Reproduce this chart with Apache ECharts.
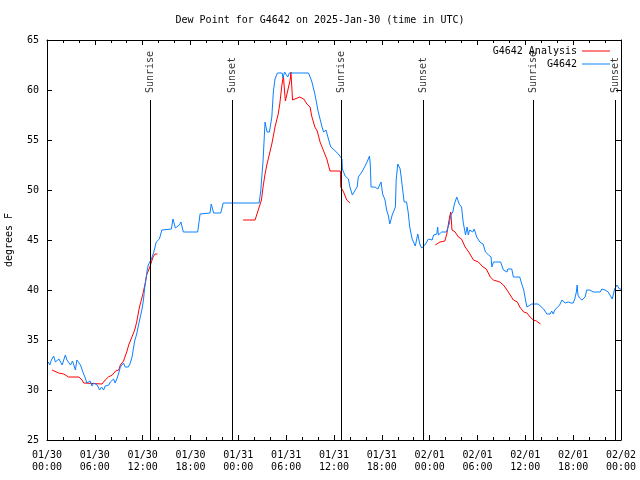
<!DOCTYPE html>
<html>
<head>
<meta charset="utf-8">
<script src="https://cdn.jsdelivr.net/npm/echarts@6/dist/echarts.min.js"></script>
<style>html,body{margin:0;padding:0;background:#fff}#c{width:640px;height:480px}</style>
</head>
<body>
<div id="c"></div>
<script>
// Hours since 2025-01-30 00:00 UTC
var obsHours = [0.15,0.35,0.55,0.84,1.05,1.25,1.5,1.7,1.9,2.1,2.3,2.5,2.75,2.95,3.2,3.35,3.56,3.75,3.95,4.2,4.5,4.8,5.0,5.2,5.4,5.65,5.85,6.07,6.3,6.45,6.6,6.7,6.85,7.1,7.3,7.55,7.75,7.95,8.16,8.35,8.55,8.8,9.0,9.2,9.4,9.6,9.8,10.0,10.2,10.4,10.67,10.85,11.0,11.25,11.45,11.7,11.9,12.1,12.25,12.4,12.55,12.7,12.85,13.1,13.4,13.7,14.1,14.4,14.6,15.6,15.8,16.1,16.3,16.6,16.8,17.1,18.9,19.2,20.45,20.6,20.9,21.8,22.1,26.6,26.8,27.1,27.35,27.6,27.9,28.2,28.4,28.6,28.9,29.5,29.6,29.8,30.0,30.2,30.4,32.8,33.2,33.6,34.0,34.5,34.7,35.0,35.3,35.6,35.9,36.1,36.55,37.0,37.05,37.4,37.8,38.0,38.3,38.55,38.9,39.05,39.5,39.9,40.2,40.45,40.55,40.65,41.15,41.5,41.9,42.1,42.4,42.6,42.8,43.0,43.3,43.5,43.7,43.8,44.0,44.3,44.5,44.8,45.1,45.3,45.5,45.8,46.2,46.5,46.8,47.0,47.4,47.85,48.3,48.5,48.9,49.0,49.1,49.5,50.1,50.45,50.65,50.9,51.1,51.4,51.5,51.7,52.0,52.2,52.4,52.5,52.7,52.85,53.0,53.4,53.6,53.9,54.3,54.7,55.0,55.4,55.7,55.8,56.0,56.9,57.25,57.7,57.8,58.3,58.5,59.3,59.55,59.8,60.0,60.2,60.4,60.8,61.6,61.8,62.3,62.7,63.1,63.3,63.5,63.7,63.9,64.3,64.6,64.8,65.0,65.4,65.7,66.0,66.2,66.4,66.5,66.6,66.8,67.1,67.5,67.7,67.9,68.1,68.3,68.5,69.4,69.6,70.0,70.2,70.4,70.9,71.2,71.5,71.8,72.0];
var obsDew = [32.8,32.5,33.0,33.4,32.8,32.7,33.1,33.2,32.5,33.0,33.5,33.0,33.1,32.5,32.9,33.0,32.0,33.0,32.8,32.5,31.8,31.2,30.7,30.5,30.9,30.4,30.7,30.7,30.5,30.6,30.0,29.8,30.3,30.0,30.4,30.2,30.5,30.8,31.0,31.1,30.7,31.2,31.7,32.3,32.2,32.7,32.3,32.5,32.3,32.6,33.3,34.2,34.9,35.6,36.4,37.3,38.0,39.0,40.2,41.0,41.9,42.5,42.3,43.1,43.8,44.8,45.1,46.0,46.1,46.1,47.1,46.2,46.2,46.5,46.8,45.8,45.8,47.6,47.7,48.6,47.7,47.7,48.7,48.7,49.8,52.9,56.8,55.8,55.8,57.3,59.9,61.1,61.7,61.7,61.2,61.8,61.7,61.3,61.7,61.7,60.9,59.6,57.9,56.3,55.8,56.0,55.1,54.3,54.1,53.9,53.6,53.1,52.1,51.4,51.1,50.3,49.5,49.3,50.3,51.3,51.8,52.4,52.9,53.4,52.6,50.3,50.3,50.1,50.8,49.6,49.0,48.0,47.5,46.6,47.5,47.3,48.3,51.0,52.6,52.1,50.8,48.8,48.8,47.8,46.3,45.1,44.4,45.6,44.5,44.2,44.5,45.1,45.0,45.5,45.6,46.3,45.5,45.8,45.8,46.6,47.5,47.8,48.6,49.3,49.4,48.6,48.3,46.8,46.6,45.5,46.3,45.5,46.0,45.8,46.1,45.3,44.8,44.6,43.8,43.5,43.3,42.3,42.8,42.8,42.0,41.8,42.1,42.1,41.3,41.3,40.6,40.0,39.1,38.3,38.5,38.6,38.6,38.5,38.1,37.6,37.6,37.9,37.6,38.0,37.8,38.5,39.0,39.2,38.7,38.8,38.7,38.7,39.1,39.8,40.5,39.5,39.2,39.0,39.3,40.0,40.1,40.0,40.1,39.8,39.8,40.1,40.0,40.1,39.8,39.1,40.1,40.5,40.1,40.1];

// Analysis (null = gap)
var anaHours = [0.63,1.46,2.1,2.7,4.0,4.4,4.6,6.9,7.3,7.7,8.2,8.6,9.0,9.2,9.6,10.0,10.25,10.5,11.0,11.25,11.6,12.0,12.3,12.5,12.9,13.3,13.55,13.85,18.0,24.6,26.1,26.5,26.9,27.1,27.35,27.6,27.9,28.2,28.6,29.0,29.2,29.45,29.65,29.9,30.1,30.3,30.5,30.6,30.8,31.1,31.7,32.2,32.6,33.0,33.2,33.6,33.9,34.25,34.7,35.1,35.5,36.8,36.85,37.2,37.6,38.0,43.0,48.7,49.3,49.9,50.15,50.5,50.65,50.8,51.2,51.6,52.0,52.45,52.9,53.5,54.1,54.7,55.1,55.6,56.0,56.8,57.25,57.7,58.1,58.5,59.0,59.3,59.8,60.2,60.6,61.0,61.4,61.9];
var anaDew = [32.0,31.7,31.6,31.3,31.3,31.0,30.7,30.6,31.0,31.3,31.5,31.9,32.0,32.5,32.9,33.8,34.5,35.0,36.0,36.8,38.3,39.5,40.6,41.5,42.3,43.3,43.6,43.6,null,47.0,47.0,48.0,49.0,50.3,51.6,52.6,53.6,54.6,56.3,57.6,58.6,60.4,61.4,58.9,59.6,60.3,61.0,61.8,59.0,59.1,59.3,59.1,58.6,58.3,57.4,56.3,55.9,54.8,53.9,53.1,51.9,51.9,50.3,49.8,49.0,48.7,null,44.5,44.8,44.9,45.6,47.3,47.8,46.0,45.8,45.3,45.1,44.3,43.8,43.0,42.8,42.3,42.1,41.3,41.0,40.8,40.5,40.0,39.5,39.0,38.8,38.3,37.8,37.7,37.3,37.0,36.9,36.6];

var sunHours = [12.96, 23.24, 36.92, 47.2, 61.0, 71.29];
var sunNames = ['Sunrise','Sunset','Sunrise','Sunset','Sunrise','Sunset'];
var sunLineTop = 59;
var sunLabelY = 59.7;

var xTickDates = ['01/30','01/30','01/30','01/30','01/31','01/31','01/31','01/31','02/01','02/01','02/01','02/01','02/02'];
var xTickTimes = ['00:00','06:00','12:00','18:00','00:00','06:00','12:00','18:00','00:00','06:00','12:00','18:00','00:00'];
var yTicks = [25,30,35,40,45,50,55,60,65];

var FONT = 'DejaVu Sans Mono';
function zip(a,b){var r=[];for(var i=0;i<a.length;i++)r.push([a[i],b[i]]);return r;}

var chart = echarts.init(document.getElementById('c'), null, {renderer:'canvas'});
var tickStyle = {show:true, inside:true, length:5, lineStyle:{color:'#000',width:1}};
var minor = {show:true, splitNumber:3, length:3, lineStyle:{color:'#000',width:1}};
var lineStyleAxis = {show:true, onZero:false, lineStyle:{color:'#000',width:1}};
chart.setOption({
  animation:false,
  backgroundColor:'#fff',
  title:{text:'Dew Point for G4642 on 2025-Jan-30 (time in UTC)', left:'center', top:10,
    textStyle:{fontFamily:FONT,fontSize:10,fontWeight:'normal',color:'#000'}},
  legend:[
    {data:['G4642 Analysis'], right:30, top:46, orient:'vertical', align:'right', itemWidth:28, itemHeight:1,
     icon:'rect', textStyle:{fontFamily:FONT,fontSize:10,color:'#000'}, padding:0},
    {data:['G4642'], right:30, top:59, orient:'vertical', align:'right', itemWidth:28, itemHeight:1,
     icon:'rect', textStyle:{fontFamily:FONT,fontSize:10,color:'#000'}, padding:0}
  ],
  grid:{left:47, right:19, top:40, bottom:40, outerBoundsMode:'none', containLabel:false},
  xAxis:[
    {type:'value', position:'bottom', min:0, max:72, interval:6,
     axisLine:lineStyleAxis, axisTick:tickStyle, minorTick:minor, splitLine:{show:false},
     axisLabel:{fontFamily:FONT,fontSize:10,color:'#000',margin:9,lineHeight:12,
       formatter:function(v){var i=Math.round(v/6);return xTickDates[i]+'\n'+xTickTimes[i];}}},
    {type:'value', position:'top', min:0, max:72, interval:6,
     axisLine:lineStyleAxis, axisTick:tickStyle, minorTick:minor, splitLine:{show:false},
     axisLabel:{show:false}}
  ],
  yAxis:[
    {type:'value', position:'left', min:yTicks[0], max:yTicks[yTicks.length-1], interval:5,
     name:'degrees F', nameLocation:'middle', nameRotate:90, nameGap:33,
     nameTextStyle:{fontFamily:FONT,fontSize:10,color:'#000'},
     axisLine:lineStyleAxis, axisTick:tickStyle, splitLine:{show:false},
     axisLabel:{fontFamily:FONT,fontSize:10,color:'#000',margin:8}},
    {type:'value', position:'right', min:yTicks[0], max:yTicks[yTicks.length-1], interval:5,
     axisLine:lineStyleAxis, axisTick:tickStyle, splitLine:{show:false}, axisLabel:{show:false}}
  ],
  series:[
    {name:'G4642 Analysis', type:'line', data:zip(anaHours,anaDew), showSymbol:false, symbol:'none',
     connectNulls:false, color:'#ff0000', lineStyle:{width:1,color:'#ff0000'},
     markLine:{silent:true, symbol:'none', label:{show:false}, animation:false,
       lineStyle:{color:'#000',width:1,type:'solid'},
       data:sunHours.map(function(t){return [{coord:[t,yTicks[0]]},{coord:[t,sunLineTop]}];})}},
    {name:'G4642', type:'line', data:zip(obsHours,obsDew), showSymbol:false, symbol:'none',
     color:'#0a80ff', lineStyle:{width:1,color:'#0a80ff'}},
    {name:'sun', type:'scatter', symbolSize:0, silent:true,
     data:sunHours.map(function(t,i){return {value:[t,sunLabelY], name:sunNames[i]};}),
     label:{show:true, position:'inside', align:'left', verticalAlign:'middle', rotate:90,
       formatter:function(p){return p.name;}, fontFamily:FONT, fontSize:10, color:'#000'}}
  ]
});
</script>
</body>
</html>
